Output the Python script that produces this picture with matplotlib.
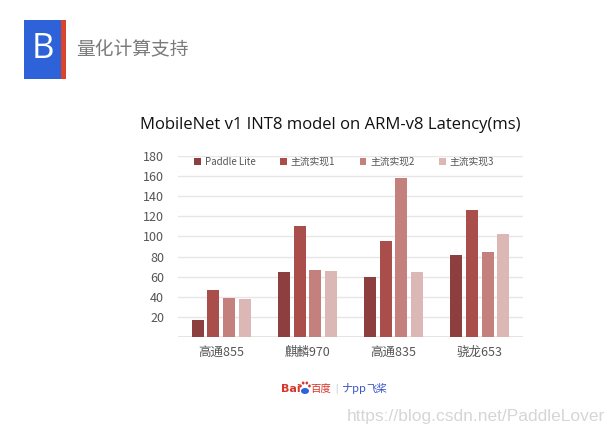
import matplotlib.pyplot as plt
import matplotlib.patches as patches
import numpy as np

plt.rcParams['font.family'] = ['Noto Sans CJK SC', 'DejaVu Sans']

# data
chips = ['高通855', '麒麟970', '高通835', '骁龙653']
series_names = ['Paddle Lite', '主流实现1', '主流实现2', '主流实现3']
paddle_lite = [17, 65, 60, 82]
impl_1 = [47, 110, 95, 126]
impl_2 = [39, 67, 158, 85]
impl_3 = [38, 66, 65, 102]
y_ticks = [20, 40, 60, 80, 100, 120, 140, 160, 180]

colors = ['#8C3F3E', '#A94E4A', '#C4807D', '#DBB7B5']

W, H = 615, 433
fig = plt.figure(figsize=(W / 100, H / 100), dpi=100)

# header (pixel coords overlay)
hdr = fig.add_axes([0, 0, 1, 1])
hdr.set_xlim(0, W)
hdr.set_ylim(H, 0)
hdr.axis('off')
hdr.add_patch(patches.Rectangle((24, 20), 37, 59, facecolor='#2D62D8', linewidth=0))
hdr.add_patch(patches.Rectangle((61, 20), 5, 59, facecolor='#D9442B', linewidth=0))
hdr.text(42.5, 49, 'B', color='white', fontsize=25, ha='center', va='center',
         family=['Open Sans', 'DejaVu Sans'])
hdr.text(76, 49, '量化计算支持', color='#7A7A7A', fontsize=13.5, ha='left', va='center')

hdr.text(330, 125, 'MobileNet v1 INT8 model on ARM-v8 Latency(ms)', fontsize=12,
         ha='center', va='center', color='#111111', family=['Open Sans', 'DejaVu Sans'])

# baidu / paddle logo
hdr.text(281, 389, 'Bai', color='#D8352A', fontsize=8, fontweight='bold', ha='left', va='center',
         family=['DejaVu Sans'])
hdr.add_patch(patches.Ellipse((305, 391), 8, 6, facecolor='#2D62D8', linewidth=0))
for dx, dy in [(-4.5, -1.5), (-1.8, -4.5), (1.8, -4.5), (4.5, -1.5)]:
    hdr.add_patch(patches.Ellipse((305 + dx, 387.5 + dy), 2.6, 3, facecolor='#D8352A', linewidth=0))
hdr.text(310, 389, '百度', color='#D8352A', fontsize=7.5, ha='left', va='center')
hdr.text(335, 389, '|', color='#AAAAAA', fontsize=6, ha='left', va='center')
hdr.text(342, 389, 'ナpp', color='#3A55C8', fontsize=8, style='italic', ha='left', va='center')
hdr.text(366, 389, '飞桨', color='#3A55C8', fontsize=7.5, ha='left', va='center')

hdr.text(605, 416, 'https://blog.csdn.net/PaddleLover', color='#D6D6D6', fontsize=12.5,
         ha='right', va='center', family=['Liberation Sans', 'DejaVu Sans'])

# chart
ax = fig.add_axes([178 / W, 1 - 337.3 / H, 345 / W, (337.3 - 155.7) / H])
x = np.arange(len(chips))
pitch = 0.182
width = 0.139
all_series = [paddle_lite, impl_1, impl_2, impl_3]
for i, (vals, name) in enumerate(zip(all_series, series_names)):
    ax.bar(x + (i - 1.5) * pitch, vals, width, color=colors[i], label=name, zorder=3)

ax.set_xlim(-0.5, len(chips) - 0.5)
ax.set_ylim(0, 180)
ax.set_yticks(y_ticks)
ax.set_xticks(x)
ax.set_xticklabels(chips)
ax.grid(axis='y', color='#E6E6E6', linewidth=1, zorder=0)
ax.axhline(0, color='#E0E0E0', linewidth=1.2, zorder=2)
for s in ax.spines.values():
    s.set_visible(False)
ax.tick_params(axis='both', length=0, labelsize=9, colors='#555555')
ax.tick_params(axis='y', pad=10)
ax.tick_params(axis='x', pad=6)

leg = ax.legend(loc='upper left', bbox_to_anchor=(0.022, 1.04), ncol=4, frameon=False,
                fontsize=7, handlelength=0.7, handleheight=0.7, handletextpad=0.4,
                columnspacing=2.5, labelcolor='#555555')

fig.savefig('out.png', dpi=100)
